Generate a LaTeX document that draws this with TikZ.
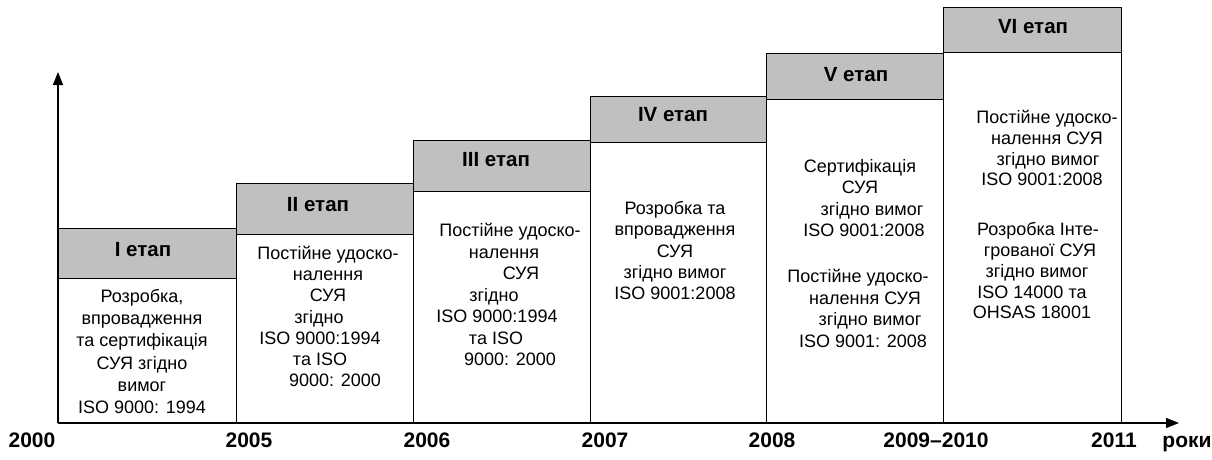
\documentclass[tikz,border=0pt]{standalone}
\usepackage{fontspec}
\setmainfont{Liberation Sans}
\usetikzlibrary{arrows.meta}
\definecolor{hdrgray}{RGB}{192,192,192}
\newcommand\shft[2]{\mbox{\kern#1\relax#2\kern-#1\relax}}
\tikzset{
  hdr/.style={fill=hdrgray, draw=black, line width=1pt},
  bodybox/.style={fill=white, draw=black, line width=0.9pt},
  axisline/.style={line width=1.3pt, -{Triangle[length=13pt,width=10pt]}},
  stagelbl/.style={font=\fontsize{20.5}{24}\selectfont\bfseries, inner sep=0pt},
  bodytxt/.style={align=center, font=\fontsize{18}{21.5}\selectfont, inner sep=0pt},
  yearlbl/.style={font=\fontsize{21}{24}\selectfont\bfseries, anchor=base, inner sep=0pt}
}
\begin{document}
\begin{tikzpicture}[x=1pt,y=-1pt]
\useasboundingbox (0,0) rectangle (1212,459);
% bodies
\draw[bodybox] (58,278) rectangle (236,423);
\draw[bodybox] (236,234) rectangle (413,423);
\draw[bodybox] (413,191) rectangle (590,423);
\draw[bodybox] (590,142) rectangle (766,423);
\draw[bodybox] (766,99) rectangle (943,423);
\draw[bodybox] (943,52) rectangle (1121,423);
% headers
\draw[hdr] (58,228) rectangle (236,278);
\draw[hdr] (236,183) rectangle (413,234);
\draw[hdr] (413,140) rectangle (590,191);
\draw[hdr] (590,96) rectangle (766,142);
\draw[hdr] (766,53) rectangle (943,99);
\draw[hdr] (943,7) rectangle (1121,52);
% axes
\coordinate (O) at (58,423);
\coordinate (Ytip) at (58,72);
\coordinate (Xtip) at (1179,423);
\draw[axisline] (O) -- (Ytip);
\draw[axisline] (O) -- (Xtip);
% stage labels
\node[stagelbl] (s1) at (143,250) {I етап};
\node[stagelbl] (s2) at (318,205) {II етап};
\node[stagelbl] (s3) at (496,160) {III етап};
\node[stagelbl] (s4) at (673,115) {IV етап};
\node[stagelbl] (s5) at (856,75) {V етап};
\node[stagelbl] (s6) at (1033,27) {VI етап};
% body texts
\node[bodytxt, font=\fontsize{18}{22.2}\selectfont] (t1) at (142,351.5)
  {Розробка,\\впровадження\\та сертифікація\\СУЯ згідно\\вимог\\ISO 9000: 1994};
\node[bodytxt, font=\fontsize{18}{21.2}\selectfont] (t2) at (328,316.5)
  {Постійне удоско-\\налення\\СУЯ\\\shft{-9pt}{згідно}\\\shft{-8pt}{ISO 9000:1994}\\\shft{-8pt}{та ISO}\\\shft{7pt}{9000: 2000}};
\node[bodytxt] (t3) at (504,294.5)
  {\shft{6pt}{Постійне удоско-}\\налення\\\shft{17pt}{СУЯ}\\\shft{-10pt}{згідно}\\\shft{-7pt}{ISO 9000:1994}\\\shft{-8pt}{та ISO}\\\shft{6pt}{9000: 2000}};
\node[bodytxt, font=\fontsize{18}{21.25}\selectfont] (t4) at (675,250.5)
  {Розробка та\\впровадження\\СУЯ\\згідно вимог\\ISO 9001:2008};
\node[bodytxt] (t5) at (862,253.5)
  {\shft{-2pt}{Сертифікація}\\\shft{-2pt}{СУЯ}\\\shft{10pt}{згідно вимог}\\\shft{2pt}{ISO 9001:2008}\\[24.5pt]
   \shft{-4pt}{Постійне удоско-}\\\shft{3pt}{налення СУЯ}\\\shft{8pt}{згідно вимог}\\\shft{1pt}{ISO 9001: 2008}};
\node[bodytxt, font=\fontsize{18}{20.8}\selectfont] (t6) at (1040,214.5)
  {\shft{7pt}{Постійне удоско-}\\\shft{7pt}{налення СУЯ}\\\shft{8pt}{згідно вимог}\\\shft{2pt}{ISO 9001:2008}\\[29pt]
   \shft{-2pt}{Розробка Інте-}\\грованої СУЯ\\\shft{-3pt}{згідно вимог}\\\shft{-8pt}{ISO 14000 та}\\\shft{-8pt}{OHSAS 18001}};
% year labels
\node[yearlbl] (y0) at (32,447) {2000};
\node[yearlbl] (y1) at (249,447) {2005};
\node[yearlbl] (y2) at (427,447) {2006};
\node[yearlbl] (y3) at (605,447) {2007};
\node[yearlbl] (y4) at (772,447) {2008};
\node[yearlbl] (y5) at (936,447) {2009–2010};
\node[yearlbl] (y6) at (1114,447) {2011};
\node[yearlbl] (yr) at (1187,447) {роки};
\end{tikzpicture}
\end{document}
